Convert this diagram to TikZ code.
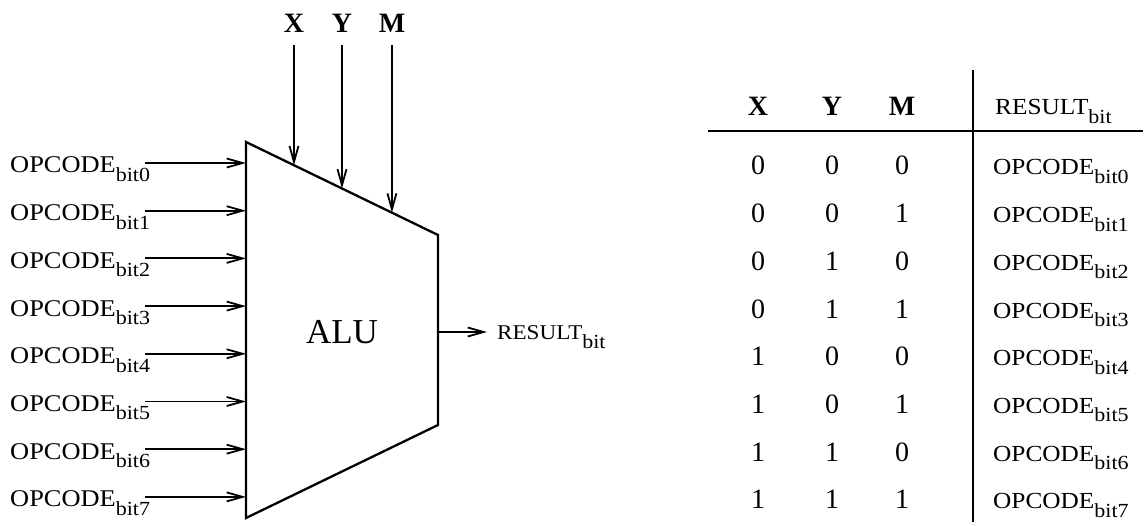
\documentclass[tikz,border=0pt]{standalone}
\usepackage{fontspec}
\setmainfont{Liberation Serif}
\newfontfamily\lblfont[FakeStretch=1.1]{Liberation Serif}
\newfontfamily\hdrfont{Liberation Serif Bold}
\usetikzlibrary{arrows.meta,calc}

% label with a lowered "bit" suffix
\newcommand{\signame}[3]{{\fontsize{#3}{#3}\lblfont #1}\raisebox{-0.6\height}{\fontsize{20}{20}\lblfont #2}}

\tikzset{
  body/.style={line width=2.3pt, line join=miter},
  sig/.style={line width=1.8pt, -{Straight Barb[length=16pt,width=9pt,line width=1.8pt]}},
  rule/.style={line width=1.6pt},
  lbl/.style={inner sep=0pt, anchor=base west},
  big/.style={inner sep=0pt, anchor=base, font=\fontsize{28}{28}\selectfont},
  hdr/.style={inner sep=0pt, anchor=base, font=\fontsize{28}{28}\hdrfont},
}

\begin{document}
\begin{tikzpicture}[x=1pt,y=-1pt]
\useasboundingbox[fill=white] (0,0) rectangle (1148,526);

% ALU body
\coordinate (tl) at (246,142);
\coordinate (tr) at (438,235);
\coordinate (br) at (438,425);
\coordinate (bl) at (246,518);
\draw[body] (tl) -- (tr) -- (br) -- (bl) -- cycle;
\node[font=\fontsize{35}{35}\selectfont, inner sep=0pt] (alu) at (342,332) {ALU};

% select inputs from the top
\foreach \n/\x/\t in {X/294/0.25, Y/342/0.5, M/392/0.76} {
  \node[hdr] (top\n) at (\x,33) {\n};
  \coordinate (end\n) at ($(tl)!\t!(tr)$);
  \draw[sig] ([yshift=-12pt]top\n.south) -- (end\n);
}

% opcode bit inputs
\foreach \i in {0,...,7} {
  \pgfmathsetmacro{\yy}{163+47.7*\i}
  \node[lbl] (op\i) at (10,\yy+10) {\signame{OPCODE}{bit\i}{24}};
  \coordinate (in\i) at (246,\yy);
  \draw[sig] ([xshift=-5pt]op\i.east |- in\i) -- (in\i);
}

% result output
\coordinate (out) at (438,332);
\node[lbl] (res) at (497,340) {\signame{RESULT}{bit}{21}};
\draw[sig] (out) -- ([xshift=-10pt]res.west |- out);

% truth table
\coordinate (vtop) at (973,70);
\coordinate (vbot) at (973,522);
\coordinate (hl) at (708,131);
\coordinate (hr) at (1143,131);
\draw[rule] (vtop) -- (vbot);
\draw[rule] (hl) -- (hr);

\node[hdr] (hx) at (758,116) {X};
\node[hdr] (hy) at (832,116) {Y};
\node[hdr] (hm) at (902,116) {M};
\node[lbl] (hres) at (995,115) {\signame{RESULT}{bit}{23}};

\foreach \a/\b/\c [count=\i from 0] in {0/0/0,0/0/1,0/1/0,0/1/1,1/0/0,1/0/1,1/1/0,1/1/1} {
  \pgfmathsetmacro{\yy}{175+47.7*\i}
  \node[big] (cx\i) at (758,\yy) {\a};
  \node[big] (cy\i) at (832,\yy) {\b};
  \node[big] (cm\i) at (902,\yy) {\c};
  \node[lbl] (co\i) at (993,\yy) {\signame{OPCODE}{bit\i}{23}};
}
\end{tikzpicture}
\end{document}
